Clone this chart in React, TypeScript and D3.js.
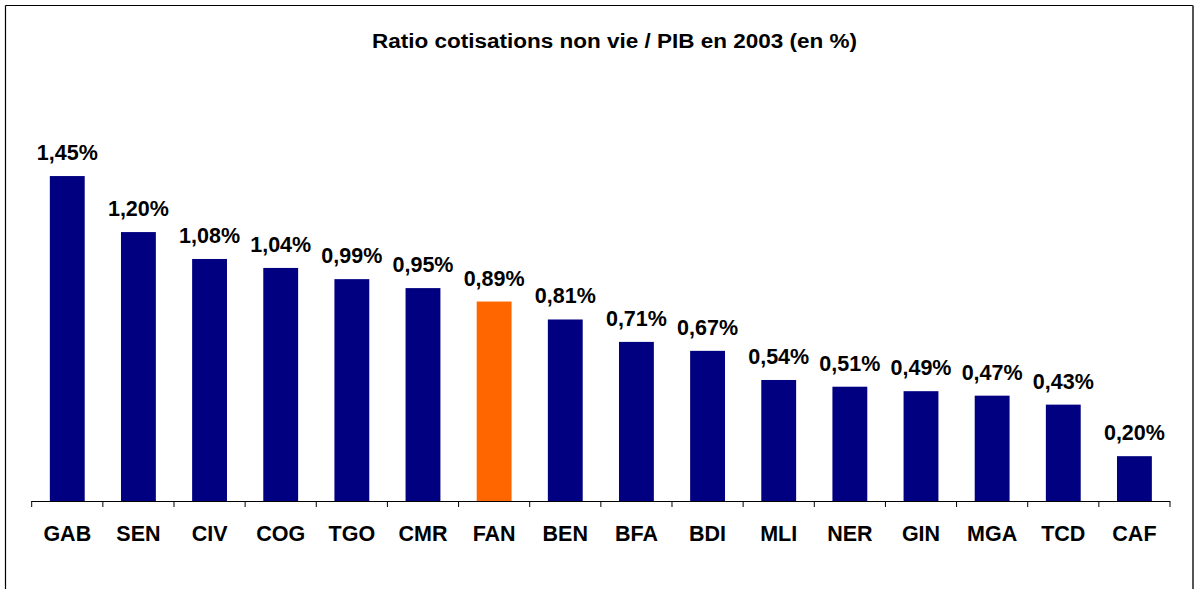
import React from "react";
import * as d3 from "d3";

const categories = ["GAB", "SEN", "CIV", "COG", "TGO", "CMR", "FAN", "BEN", "BFA", "BDI", "MLI", "NER", "GIN", "MGA", "TCD", "CAF"];
const values = [1.45, 1.2, 1.08, 1.04, 0.99, 0.95, 0.89, 0.81, 0.71, 0.67, 0.54, 0.51, 0.49, 0.47, 0.43, 0.2];
const highlighted = ["FAN"];
const title = "Ratio cotisations non vie / PIB en 2003 (en %)";

const W = 1194;
const H = 589;
const x0 = 31.7;
const x1 = 1170;
const yBase = 501;
const FONT = "'Liberation Sans', Arial, sans-serif";

export default function App() {
  const x = d3.scaleBand<string>().domain(categories).range([x0, x1]).paddingInner(0.51).paddingOuter(0.255);
  const band = d3.scaleBand<string>().domain(categories).range([x0, x1]);
  const y = d3.scaleLinear().domain([0, 1.6]).range([yBase, yBase - 1.6 * 224.1]);
  const fmt = (v: number) => v.toFixed(2).replace(".", ",") + "%";
  const ticks = categories.map((c) => band(c) as number).concat([x1]);

  return (
    <svg width={W} height={H} style={{ position: "absolute", left: 0, top: 0, background: "#fff" }}>
      <rect x={0} y={0} width={W} height={H} fill="#fff" />
      <line x1={5.5} y1={5.5} x2={1193} y2={5.5} stroke="#000" strokeWidth={1.2} />
      <line x1={5.5} y1={5.5} x2={5.5} y2={H} stroke="#000" strokeWidth={1.2} />
      <line x1={1193} y1={5.5} x2={1193} y2={H} stroke="#555" strokeWidth={2} />
      <text x={614.5} y={48} textAnchor="middle" fontFamily={FONT} fontWeight="bold" fontSize={20} textLength={485} lengthAdjust="spacingAndGlyphs" fill="#000">
        {title}
      </text>
      {categories.map((c, i) => (
        <rect
          key={c}
          x={x(c)}
          y={y(values[i])}
          width={x.bandwidth()}
          height={yBase - y(values[i])}
          fill={highlighted.includes(c) ? "#FF6600" : "#000080"}
        />
      ))}
      <line x1={x0} y1={yBase + 0.5} x2={x1} y2={yBase + 0.5} stroke="#000" strokeWidth={1} />
      {ticks.map((t, i) => (
        <line key={i} x1={t} y1={yBase} x2={t} y2={yBase + 6} stroke="#000" strokeWidth={1} />
      ))}
      {categories.map((c, i) => (
        <text
          key={"v" + c}
          x={(x(c) as number) + x.bandwidth() / 2}
          y={y(values[i]) - 16}
          textAnchor="middle"
          fontFamily={FONT}
          fontWeight="bold"
          fontSize={21.5}
          fill="#000"
        >
          {fmt(values[i])}
        </text>
      ))}
      {categories.map((c) => (
        <text
          key={"c" + c}
          x={(band(c) as number) + band.bandwidth() / 2}
          y={541}
          textAnchor="middle"
          fontFamily={FONT}
          fontWeight="bold"
          fontSize={21.5}
          fill="#000"
        >
          {c}
        </text>
      ))}
    </svg>
  );
}
